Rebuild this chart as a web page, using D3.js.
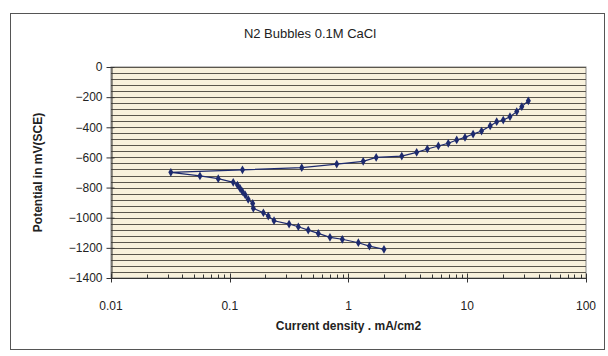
<!DOCTYPE html>
<html>
<head>
<meta charset="utf-8">
<script src="https://cdn.jsdelivr.net/npm/d3@7"></script>
<style>
  body { margin: 0; background: #fff; }
  text { font-family: "Liberation Sans", Arial, sans-serif; fill: #222; }
</style>
</head>
<body>
<svg id="chart" width="608" height="356"></svg>
<script>
"use strict";

// current density (mA/cm2) and potential (mV),
// cathodic branch first (from its far end), then the anodic branch
var current = [
  1.99, 1.50, 1.21, 0.887, 0.698, 0.557, 0.458, 0.378, 0.316, 0.236,
  0.211, 0.192, 0.158, 0.156, 0.143, 0.135, 0.128, 0.122, 0.116, 0.107,
  0.080, 0.0561, 0.0319,
  0.128, 0.404, 0.796, 1.33, 1.71, 2.81, 3.75, 4.61, 5.71, 6.92,
  8.15, 9.57, 11.2, 13.2, 15.6, 17.7, 20.1, 22.9, 26.1, 28.8, 32.7
];
var potential = [
  -1210, -1188, -1166, -1143, -1130, -1104, -1082, -1060, -1042, -1020,
  -989, -967, -938, -905, -878, -849, -827, -805, -783, -765,
  -741, -723, -699,
  -682, -668, -644, -626, -600, -591, -566, -544, -524, -506,
  -484, -467, -445, -425, -391, -363, -352, -330, -296, -263, -224
];
var yTicks = [0, -200, -400, -600, -800, -1000, -1200, -1400];
var xTicks = [0.01, 0.1, 1, 10, 100];

var svg = d3.select("#chart");
var plotLeft = 111, plotRight = 586, plotTop = 67, plotBottom = 278;

// outer frame
svg.append("rect")
    .attr("x", 10.5).attr("y", 13.5)
    .attr("width", 594).attr("height", 336)
    .style("fill", "none").style("stroke", "#555");

var x = d3.scaleLog().domain([0.01, 100]).range([plotLeft, plotRight]);
var y = d3.scaleLinear().domain([-1400, 0]).range([plotBottom, plotTop]);

// plot background
svg.append("rect")
    .attr("x", plotLeft).attr("y", plotTop)
    .attr("width", plotRight - plotLeft).attr("height", plotBottom - plotTop)
    .style("fill", "#f8f1dc").style("stroke", "#888");

// horizontal grid every 40 mV
svg.selectAll(".grid")
    .data(d3.range(0, -1401, -40))
    .enter()
    .append("line")
    .attr("x1", plotLeft).attr("x2", plotRight)
    .attr("y1", function(d){ return Math.round(y(d)) + 0.5 })
    .attr("y2", function(d){ return Math.round(y(d)) + 0.5 })
    .style("stroke", "#5a564c")
    .style("stroke-width", 1);

// y axis
var yAxis = d3.axisLeft(y).tickValues(yTicks).tickSize(5).tickSizeOuter(0)
    .tickFormat(d3.format("d"));
var gy = svg.append("g").attr("transform", "translate(" + (plotLeft + 0.5) + ",0)").call(yAxis);
gy.selectAll("text").attr("x", -9).style("font-size", "12px")
    .style("font-family", "Liberation Sans, Arial, sans-serif").style("fill", "#222");
gy.selectAll(".tick line").attr("x2", -5).attr("x1", 3).style("stroke", "#333");
gy.select(".domain").style("stroke", "#333");

// x axis with minor log ticks
var minor = [];
for (var e = -2; e < 2; e++) {
  for (var m = 2; m <= 9; m++) minor.push(m * Math.pow(10, e));
}
var gx = svg.append("g").attr("transform", "translate(0," + (plotBottom + 0.5) + ")");
gx.append("line").attr("x1", plotLeft).attr("x2", plotRight).style("stroke", "#333");
gx.selectAll(".minor")
    .data(minor)
    .enter()
    .append("line")
    .attr("x1", function(d){ return Math.round(x(d)) + 0.5 })
    .attr("x2", function(d){ return Math.round(x(d)) + 0.5 })
    .attr("y1", 0).attr("y2", -4)
    .style("stroke", "#333");
gx.selectAll(".major")
    .data(xTicks)
    .enter()
    .append("line")
    .attr("x1", function(d){ return Math.round(x(d)) + 0.5 })
    .attr("x2", function(d){ return Math.round(x(d)) + 0.5 })
    .attr("y1", 4).attr("y2", -5)
    .style("stroke", "#333");
gx.selectAll(".lbl")
    .data(xTicks)
    .enter()
    .append("text")
    .attr("x", function(d){ return x(d) })
    .attr("y", 31)
    .attr("text-anchor", "middle")
    .style("font-size", "12px")
    .text(function(d){ return String(d) });

// curve
var pts = current.map(function(c, i){ return [c, potential[i]] });
svg.append("path")
    .datum(pts)
    .attr("d", d3.line().x(function(d){ return x(d[0]) }).y(function(d){ return y(d[1]) }))
    .style("fill", "none")
    .style("stroke", "#1d2a6e")
    .style("stroke-width", 1.2);

svg.selectAll(".pt")
    .data(pts)
    .enter()
    .append("path")
    .attr("d", d3.symbol().type(d3.symbolDiamond).size(22))
    .attr("transform", function(d){ return "translate(" + x(d[0]) + "," + y(d[1]) + ")" })
    .style("fill", "#1d2a6e");

// titles
svg.append("text")
    .attr("x", 310).attr("y", 38)
    .attr("text-anchor", "middle")
    .style("font-size", "13px")
    .text("N2 Bubbles 0.1M CaCl");

svg.append("text")
    .attr("x", (plotLeft + plotRight) / 2).attr("y", 330)
    .attr("text-anchor", "middle")
    .style("font-size", "12px").style("font-weight", "bold")
    .text("Current density . mA/cm2");

svg.append("text")
    .attr("transform", "translate(42," + ((plotTop + plotBottom) / 2) + ") rotate(-90)")
    .attr("text-anchor", "middle")
    .style("font-size", "12px").style("font-weight", "bold")
    .text("Potential in mV(SCE)");
</script>
</body>
</html>
